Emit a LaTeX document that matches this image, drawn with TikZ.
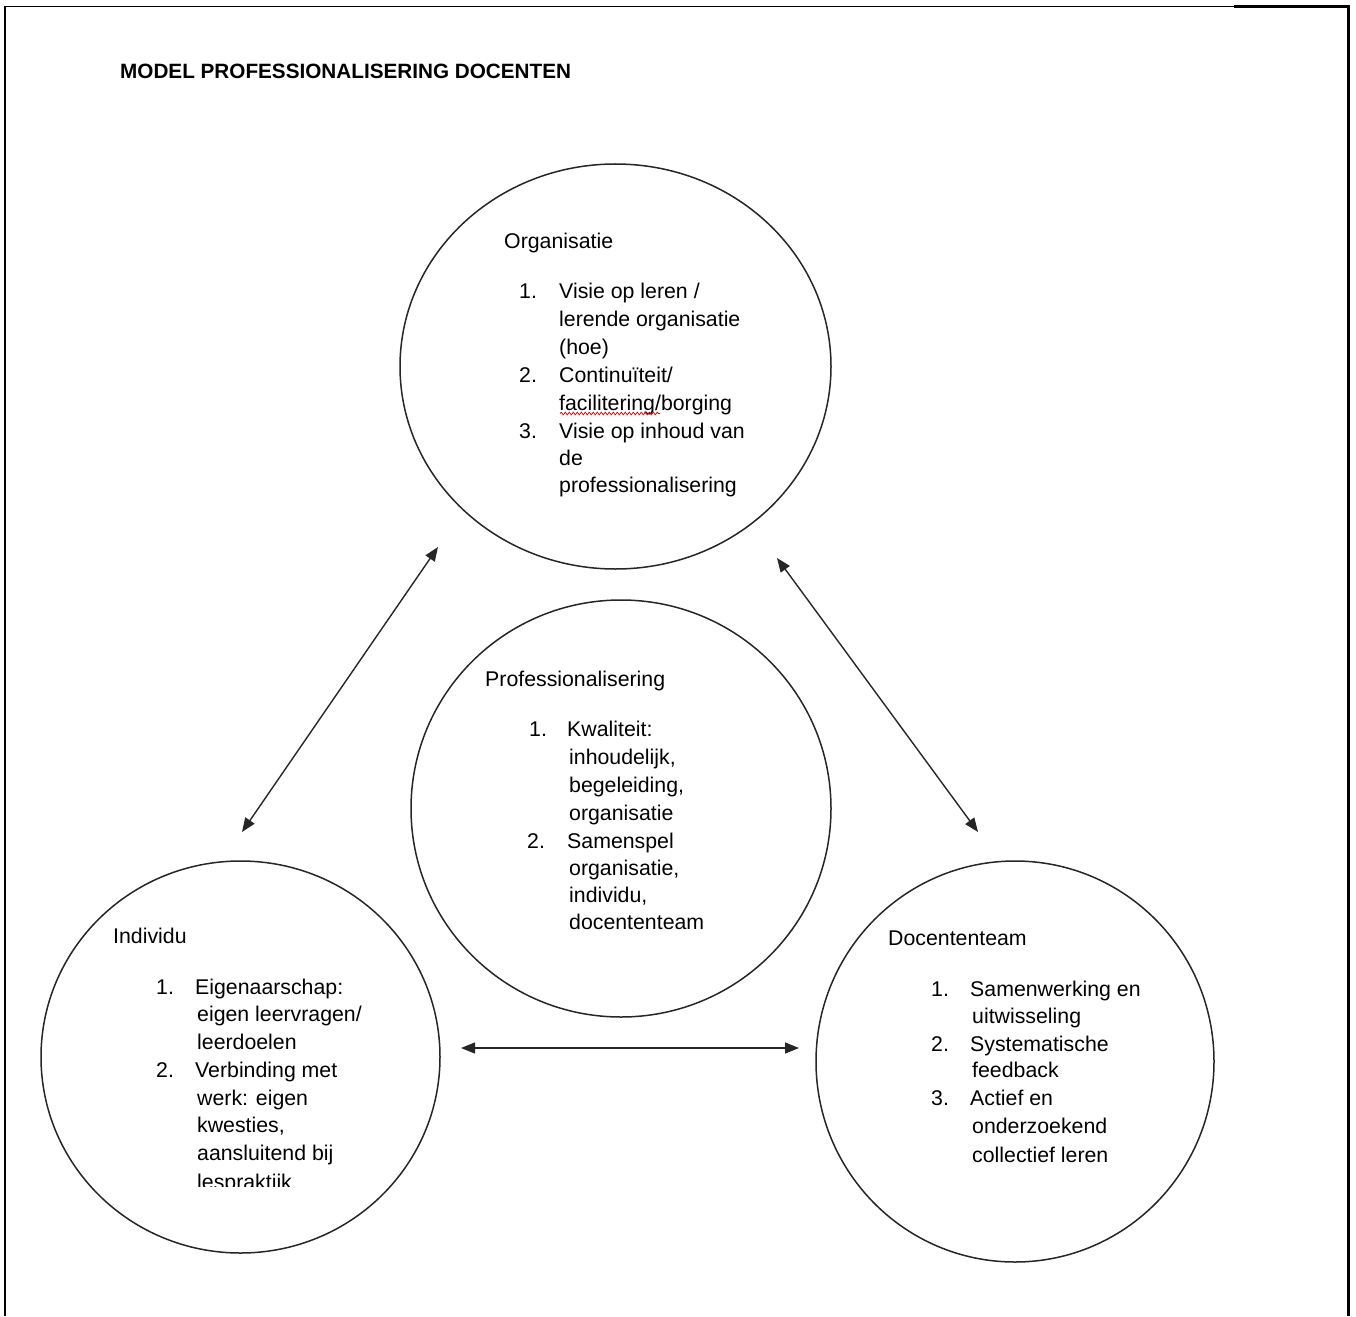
\documentclass[tikz,border=0pt]{standalone}
\usepackage{fontspec}
\setmainfont{Liberation Sans}
\usetikzlibrary{shapes.geometric,arrows.meta,decorations.pathmorphing}
\begin{document}
\begin{tikzpicture}[x=1pt,y=-1pt,
  circ/.style={draw=black!85,line width=1.5pt,ellipse,inner sep=0pt},
  ln/.style={anchor=base west,inner sep=0pt,font=\fontsize{21.3}{27}\selectfont},
  ttl/.style={anchor=base west,inner sep=0pt,font=\fontsize{20.7}{24}\selectfont\bfseries},
  link/.style={draw=black!85,line width=1.4pt,{Triangle[length=14pt,width=11pt]}-{Triangle[length=14pt,width=11pt]}},
  frame/.style={draw=black,line width=1.3pt}]
\useasboundingbox (0,0) rectangle (1356,1316);
% frame
\draw[frame] (5,1316) -- (5,6.5) -- (1234,6.5);
\draw[frame,line width=2.4pt] (1234,6.5) -- (1348.5,6.5) -- (1348.5,1316);
% title
\node[ttl] (title) at (120,79) {MODEL PROFESSIONALISERING DOCENTEN};
% circles
\node[circ,minimum width=431pt,minimum height=405pt] (org) at (615.5,366.5) {};
\node[circ,minimum width=420pt,minimum height=417pt] (prof) at (621,808.5) {};
\node[circ,minimum width=399pt,minimum height=392pt] (ind) at (240.5,1057) {};
\node[circ,minimum width=398pt,minimum height=401pt] (doc) at (1015,1061.5) {};
% Organisatie text
\node[ln] (o0) at (504,248) {Organisatie};
\node[ln] (o1n) at (519,298) {1.};
\node[ln] (o1a) at (559,298) {Visie op leren /};
\node[ln] (o1b) at (559,326) {lerende organisatie};
\node[ln] (o1c) at (559,354) {(hoe)};
\node[ln] (o2n) at (519,382) {2.};
\node[ln] (o2a) at (559,382) {Continuïteit/};
\node[ln] (o2b) at (559,410) {facilitering/borging};
\node[ln] (o3n) at (519,438) {3.};
\node[ln] (o3a) at (559,438) {Visie op inhoud van};
\node[ln] (o3b) at (559,465) {de};
\node[ln] (o3c) at (559,492) {professionalisering};
\draw[red,line width=0.8pt,decorate,decoration={snake,amplitude=1.3pt,segment length=4pt}] (560,413.5) -- (660,413.5);
% Professionalisering text
\node[ln] (p0) at (485,686) {Professionalisering};
\node[ln] (p1n) at (529,736) {1.};
\node[ln] (p1a) at (567,736) {Kwaliteit:};
\node[ln] (p1b) at (569,764) {inhoudelijk,};
\node[ln] (p1c) at (569,792) {begeleiding,};
\node[ln] (p1d) at (569,820) {organisatie};
\node[ln] (p2n) at (527,848) {2.};
\node[ln] (p2a) at (567,848) {Samenspel};
\node[ln] (p2b) at (569,875) {organisatie,};
\node[ln] (p2c) at (569,902) {individu,};
\node[ln] (p2d) at (569,929) {docententeam};
% Individu text
\node[ln] (i0) at (113,943) {Individu};
\node[ln] (i1n) at (156,994) {1.};
\node[ln] (i1a) at (195,994) {Eigenaarschap:};
\node[ln] (i1b) at (197,1021) {eigen leervragen/};
\node[ln] (i1c) at (197,1049) {leerdoelen};
\node[ln] (i2n) at (156,1077) {2.};
\node[ln] (i2a) at (195,1077) {Verbinding met};
\node[ln] (i2b) at (197,1105) {werk: eigen};
\node[ln] (i2c) at (197,1132) {kwesties,};
\node[ln] (i2d) at (197,1160) {aansluitend bij};
\begin{scope}
\clip (150,1160) rectangle (400,1186);
\node[ln] (i2e) at (197,1189) {lespraktijk};
\end{scope}
% Docententeam text
\node[ln] (d0) at (888,945) {Docententeam};
\node[ln] (d1n) at (931,996) {1.};
\node[ln] (d1a) at (970,996) {Samenwerking en};
\node[ln] (d1b) at (972,1023) {uitwisseling};
\node[ln] (d2n) at (931,1051) {2.};
\node[ln] (d2a) at (970,1051) {Systematische};
\node[ln] (d2b) at (972,1077) {feedback};
\node[ln] (d3n) at (931,1105) {3.};
\node[ln] (d3a) at (970,1105) {Actief en};
\node[ln] (d3b) at (972,1133) {onderzoekend};
\node[ln] (d3c) at (972,1162) {collectief leren};
% arrows
\coordinate (aOI1) at (438,547);
\coordinate (aOI2) at (242,832);
\coordinate (aOD1) at (777,558);
\coordinate (aOD2) at (978,832);
\coordinate (aID1) at (461,1048);
\coordinate (aID2) at (799,1048);
\draw[link] (aOI2) -- (aOI1);
\draw[link] (aOD1) -- (aOD2);
\draw[link] (aID1) -- (aID2);
\end{tikzpicture}
\end{document}
